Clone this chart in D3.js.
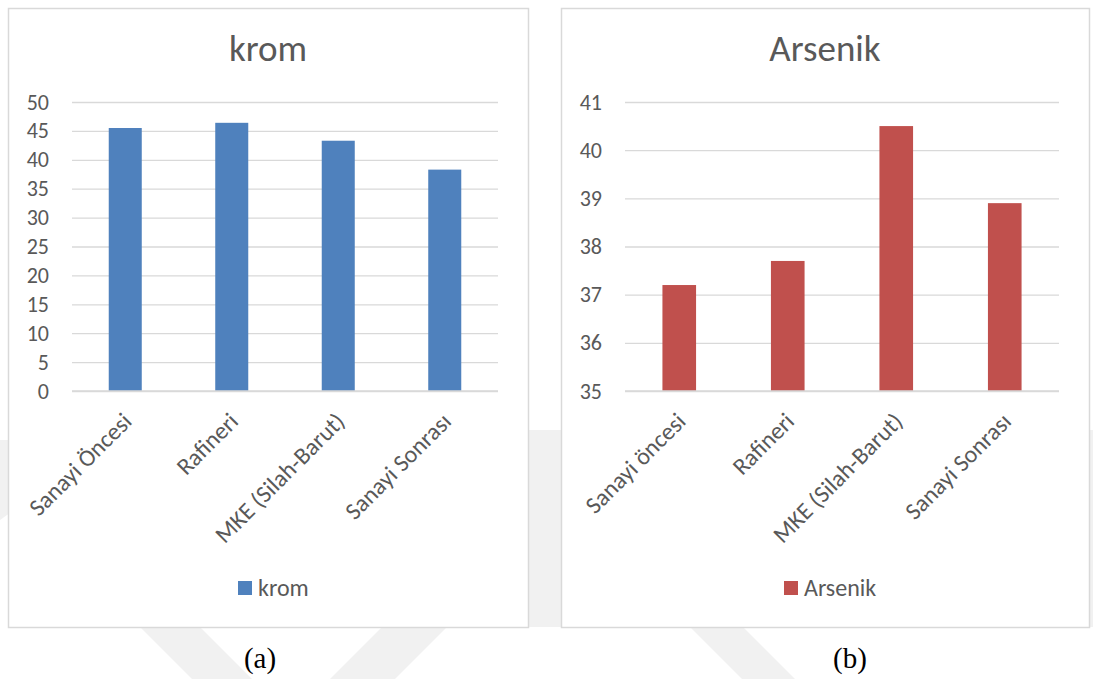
<!DOCTYPE html>
<html>
<head>
<meta charset="utf-8">
<script src="https://cdn.jsdelivr.net/npm/d3@7"></script>
<style>
  html, body { margin: 0; padding: 0; background: #ffffff; }
  svg { display: block; }
</style>
</head>
<body>
<svg id="fig" width="1093" height="679"></svg>
<script>
// Sampling sites and measured concentrations
const categoriesKrom = ["Sanayi Öncesi", "Rafineri", "MKE (Silah-Barut)", "Sanayi Sonrası"];
const categoriesArsenik = ["Sanayi öncesi", "Rafineri", "MKE (Silah-Barut)", "Sanayi Sonrası"];
const kromValues = [45.5, 46.4, 43.3, 38.3];
const arsenikValues = [37.2, 37.7, 40.5, 38.9];
const kromTicks = [0, 5, 10, 15, 20, 25, 30, 35, 40, 45, 50];
const arsenikTicks = [35, 36, 37, 38, 39, 40, 41];

const FONT = "Carlito, Calibri, Lato, 'Open Sans', sans-serif";
const TEXT = "#595959";
const GRID = "#d9d9d9";

const svg = d3.select("#fig");

// faint page emblem behind the two charts
const emblem = svg.append("g").attr("fill", "#f1f1f1");
const bands = [
  [[0, 440], [14, 440], [14, 510], [0, 520]],
  [[140, 627], [200, 627], [252, 679], [192, 679]],
  [[330, 679], [395, 679], [447, 627], [382, 627]],
  [[520, 430], [570, 430], [570, 627], [520, 627]],
  [[690, 627], [743, 627], [795, 679], [742, 679]],
  [[1080, 430], [1093, 430], [1093, 627], [1080, 627]]
];
emblem.selectAll("path")
  .data(bands)
  .join("path")
  .attr("d", d => d3.line()(d) + "Z");

function panel(cfg) {
  const g = svg.append("g");

  // chart frame
  g.append("rect")
    .attr("x", cfg.box[0] + 0.5).attr("y", cfg.box[1] + 0.5)
    .attr("width", cfg.box[2]).attr("height", cfg.box[3])
    .attr("fill", "#ffffff").attr("stroke", GRID).attr("stroke-width", 1.5);

  const x = d3.scaleBand()
    .domain(cfg.categories)
    .range(cfg.xRange)
    .paddingInner(0.69)
    .paddingOuter(0.345);

  const y = d3.scaleLinear()
    .domain(cfg.domain)
    .range(cfg.yRange);

  // title
  g.append("text")
    .attr("x", cfg.box[0] + cfg.box[2] / 2)
    .attr("y", 61)
    .attr("text-anchor", "middle")
    .attr("font-family", FONT)
    .attr("font-size", 37)
    .attr("fill", TEXT)
    .text(cfg.title);

  // horizontal gridlines + value labels
  const yAxis = d3.axisLeft(y)
    .tickValues(cfg.ticks)
    .tickSize(-(cfg.xRange[1] - cfg.xRange[0]))
    .tickPadding(23)
    .tickFormat(d3.format("d"));

  const ya = g.append("g")
    .attr("transform", `translate(${cfg.xRange[0]},0)`)
    .call(yAxis);
  ya.select(".domain").remove();
  ya.selectAll(".tick line").attr("stroke", GRID).attr("stroke-width", 1.3);
  ya.selectAll(".tick text")
    .attr("font-family", FONT)
    .attr("font-size", 22)
    .attr("fill", TEXT);

  // bars
  g.append("g").selectAll("rect")
    .data(cfg.values)
    .join("rect")
    .attr("x", (d, i) => x(cfg.categories[i]))
    .attr("width", x.bandwidth())
    .attr("y", d => y(d))
    .attr("height", d => y(cfg.domain[0]) - y(d))
    .attr("fill", cfg.color);

  // baseline over the bars
  g.append("line")
    .attr("x1", cfg.xRange[0]).attr("x2", cfg.xRange[1])
    .attr("y1", y(cfg.domain[0])).attr("y2", y(cfg.domain[0]))
    .attr("stroke", GRID).attr("stroke-width", 1.3);

  // rotated category labels
  const xAxis = d3.axisBottom(x).tickSize(0).tickPadding(0);
  const xa = g.append("g")
    .attr("transform", `translate(0,${y(cfg.domain[0])})`)
    .call(xAxis);
  xa.select(".domain").remove();
  xa.selectAll(".tick text")
    .attr("font-family", FONT)
    .attr("font-size", 24)
    .attr("fill", TEXT)
    .attr("text-anchor", "end")
    .attr("dy", "0.35em")
    .attr("transform", "translate(2,26) rotate(-45)");

  // legend
  const lg = g.append("g")
    .attr("transform", `translate(${cfg.legendX},581)`);
  lg.append("rect")
    .attr("width", 14).attr("height", 14)
    .attr("fill", cfg.color);
  lg.append("text")
    .attr("x", 20).attr("y", 14.5)
    .attr("font-family", FONT)
    .attr("font-size", 24)
    .attr("fill", TEXT)
    .text(cfg.title);

  // caption below the frame
  svg.append("text")
    .attr("x", cfg.captionX)
    .attr("y", 668)
    .attr("text-anchor", "middle")
    .attr("font-family", "'Liberation Serif', 'Times New Roman', serif")
    .attr("font-size", 29)
    .attr("fill", "#000000")
    .text(cfg.caption);
}

panel({
  box: [8, 8, 520, 619],
  title: "krom",
  categories: categoriesKrom,
  values: kromValues,
  ticks: kromTicks,
  domain: [0, 50],
  xRange: [72, 498],
  yRange: [391, 102],
  color: "#4f81bd",
  legendX: 238,
  caption: "(a)",
  captionX: 260
});

panel({
  box: [561, 8, 528, 619],
  title: "Arsenik",
  categories: categoriesArsenik,
  values: arsenikValues,
  ticks: arsenikTicks,
  domain: [35, 41],
  xRange: [625, 1059],
  yRange: [391, 102],
  color: "#c0504d",
  legendX: 784,
  caption: "(b)",
  captionX: 850
});
</script>
</body>
</html>
